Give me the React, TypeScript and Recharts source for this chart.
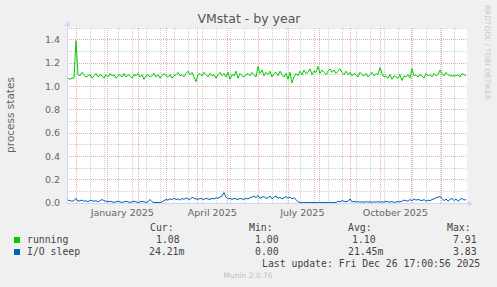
import React from 'react';
import { ComposedChart, Line, XAxis, YAxis, CartesianGrid } from 'recharts';

// running (process states), sampled every 2 days over the 400-day window
const runningValues = [
  1.07, 1.06, 1.07, 1.07,
  1.39,
  1.10,
  1.09, 1.12, 1.10, 1.08, 1.09, 1.10, 1.07, 1.09, 1.11, 1.08, 1.10,
  1.09, 1.07, 1.10, 1.08, 1.11, 1.09, 1.10, 1.07, 1.09, 1.10, 1.08, 1.11,
  1.08, 1.10, 1.09, 1.07, 1.10, 1.09, 1.11, 1.08, 1.10, 1.06, 1.09, 1.10, 1.08,
  1.09, 1.11, 1.08, 1.10, 1.07, 1.09, 1.11, 1.09, 1.08, 1.10, 1.07, 1.09,
  1.10, 1.12, 1.09, 1.10, 1.08, 1.11, 1.13, 1.10, 1.12, 1.08, 1.04, 1.10,
  1.11, 1.09, 1.12, 1.10, 1.08, 1.11, 1.09, 1.10, 1.07, 1.10, 1.12, 1.09, 1.11,
  1.08, 1.12, 1.06, 1.10, 1.09, 1.13, 1.07, 1.11, 1.09, 1.08, 1.10, 1.11, 1.09,
  1.12, 1.10, 1.08, 1.17, 1.11, 1.14, 1.09, 1.12, 1.10, 1.13, 1.08, 1.11,
  1.12, 1.09, 1.13, 1.10, 1.08, 1.11, 1.06, 1.12, 1.03, 1.08, 1.11, 1.09,
  1.13, 1.10, 1.14, 1.11, 1.12, 1.15, 1.10, 1.13, 1.12, 1.17, 1.11, 1.14,
  1.12, 1.10, 1.13, 1.15, 1.12, 1.14, 1.11, 1.13, 1.15, 1.12, 1.10, 1.13,
  1.10, 1.12, 1.09, 1.11, 1.10, 1.08, 1.12, 1.10, 1.09, 1.11, 1.08, 1.10,
  1.12, 1.09, 1.11, 1.10, 1.16, 1.11, 1.08, 1.09, 1.07, 1.10, 1.06, 1.09,
  1.08, 1.07, 1.10, 1.05, 1.09, 1.08, 1.10, 1.07, 1.15, 1.09, 1.10, 1.08,
  1.10, 1.09, 1.07, 1.11, 1.09, 1.10, 1.08, 1.11, 1.09, 1.10, 1.14, 1.11,
  1.09, 1.12, 1.10, 1.09, 1.09, 1.09, 1.09, 1.10, 1.08, 1.11, 1.10, 1.09,
];

// I/O sleep, same sampling
const ioSleepValues = [
  0.025, 0.02, 0.015, 0.02,
  0.04,
  0.015,
  0.02, 0.025, 0.015, 0.02, 0.01, 0.025, 0.02, 0.015, 0.02, 0.01, 0.02,
  0.03, 0.02, 0.015, 0.01, 0.015, 0.01, 0.005, 0.01, 0.015, 0.01, 0.005, 0.01,
  0.015, 0.01, 0.005, 0.01, 0.015, 0.01, 0.005, 0.01, 0.015, 0.01, 0.005, 0.01, 0.03,
  0.01, 0.005, 0.003, 0.005, 0.003, 0.01, 0.02, 0.03, 0.025, 0.035, 0.03, 0.04,
  0.03, 0.035, 0.025, 0.04, 0.03, 0.045, 0.035, 0.03, 0.05, 0.04, 0.035, 0.03,
  0.04, 0.035, 0.03, 0.04, 0.035, 0.03, 0.04, 0.035, 0.045, 0.04, 0.05, 0.06, 0.09,
  0.05, 0.035, 0.04, 0.03, 0.04, 0.035, 0.03, 0.04, 0.035, 0.03, 0.04, 0.035, 0.045,
  0.05, 0.06, 0.045, 0.065, 0.04, 0.05, 0.055, 0.04, 0.045, 0.06, 0.035, 0.05,
  0.06, 0.04, 0.05, 0.035, 0.045, 0.055, 0.04, 0.05, 0.035, 0.045, 0.03, 0.01,
  0.005, 0.003, 0.003, 0.004, 0.003, 0.004, 0.003, 0.005, 0.004, 0.003, 0.004, 0.003,
  0.004, 0.003, 0.005, 0.003, 0.004, 0.003, 0.005, 0.015, 0.01, 0.02, 0.015, 0.01,
  0.015, 0.035, 0.01, 0.015, 0.008, 0.012, 0.008, 0.01, 0.006, 0.012, 0.008, 0.01,
  0.006, 0.01, 0.008, 0.012, 0.006, 0.01, 0.008, 0.015, 0.01, 0.008, 0.012, 0.006,
  0.008, 0.012, 0.01, 0.015, 0.025, 0.02, 0.015, 0.03, 0.02, 0.035, 0.025, 0.03,
  0.025, 0.02, 0.03, 0.015, 0.025, 0.02, 0.03, 0.035, 0.045, 0.05, 0.055, 0.04,
  0.02, 0.035, 0.015, 0.03, 0.04, 0.02, 0.035, 0.015, 0.03, 0.04, 0.025, 0.03,
];

// day offsets from window start (Nov 21 2024 17:00)
const sampleDays = runningValues.map((_, i) => 1 + i * 2);

const yTicks = [0, 0.2, 0.4, 0.6, 0.8, 1.0, 1.2, 1.4];
const yMajorGrid = [0.2, 0.4, 0.6, 0.8, 1.0, 1.2, 1.4];
const yMinorGrid = [0.1, 0.3, 0.5, 0.7, 0.9, 1.1, 1.3, 1.5];
const monthStartDays = [9.29, 40.29, 71.29, 99.29, 130.29, 160.29, 191.29, 221.29, 252.29, 283.29, 313.29, 344.29, 374.29];
const biweeklyDays = Array.from({ length: 28 }, (_, k) => 9.29 + 14 * k);
const xTickDays = [55.29, 145.29, 235.29, 328.29];
const xTickLabels = ['January 2025', 'April 2025', 'July 2025', 'October 2025'];

const legendNames = ['running', 'I/O sleep'];
const legendColors = ['#00CC00', '#0066B3'];
const curValues = ['1.08', '24.21m'];
const minValues = ['1.00', '0.00'];
const avgValues = ['1.10', '21.45m'];
const maxValues = ['7.91', '3.83'];

const data = sampleDays.map((d, i) => ({ day: d, running: runningValues[i], io: ioSleepValues[i] }));

const SANS = "'DejaVu Sans', Verdana, sans-serif";
const MONO = "'DejaVu Sans Mono', monospace";

export default function App() {
  const labelOf = (v: number) => {
    const i = xTickDays.indexOf(v);
    return i >= 0 ? xTickLabels[i] : '';
  };
  const rowY = [243, 255];
  const curX = [156, 149];
  const minX = [255, 255];
  const avgX = [352, 348];
  const maxX = [453, 453];
  return (
    <div style={{ position: 'absolute', left: 0, top: 0, width: 497, height: 287, background: '#F0F0F0' }}>
      <ComposedChart
        width={497}
        height={287}
        data={data}
        margin={{ top: 28, right: 30, bottom: 54, left: 0 }}
      >
        <CartesianGrid
          fill="#FFFFFF"
          stroke="#d0d0d0"
          strokeDasharray="1 1"
          shapeRendering="crispEdges"
          horizontalValues={yMinorGrid}
          verticalValues={biweeklyDays}
        />
        <CartesianGrid
          stroke="#e8aaaa"
          strokeDasharray="1 1"
          shapeRendering="crispEdges"
          horizontalValues={yMajorGrid}
          verticalValues={monthStartDays}
        />
        <XAxis
          dataKey="day"
          type="number"
          domain={[0, 400]}
          ticks={xTickDays}
          tickFormatter={labelOf}
          axisLine={false}
          tickLine={false}
          tickSize={0}
          tickMargin={6}
          height={30}
          interval={0}
          tick={{ fontSize: 9.5, fill: '#666666', fontFamily: SANS }}
        />
        <YAxis
          type="number"
          domain={[0, 1.5]}
          ticks={yTicks}
          tickFormatter={(v: number) => v.toFixed(1)}
          axisLine={false}
          tickLine={false}
          tickSize={0}
          tickMargin={7}
          width={67}
          interval={0}
          allowDataOverflow
          tick={{ fontSize: 9.5, fill: '#666666', fontFamily: SANS }}
        />
        <Line
          dataKey="running"
          type="linear"
          stroke="#00CC00"
          strokeWidth={1}
          dot={false}
          activeDot={false}
          isAnimationActive={false}
        />
        <Line
          dataKey="io"
          type="linear"
          stroke="#0066B3"
          strokeWidth={1}
          dot={false}
          activeDot={false}
          isAnimationActive={false}
        />
      </ComposedChart>
      <svg
        width={497}
        height={287}
        style={{ position: 'absolute', left: 0, top: 0, pointerEvents: 'none' }}
      >
        {/* axes with arrows */}
        <line x1={67.5} y1={203.5} x2={67.5} y2={25} stroke="#CFD6F8" strokeWidth={1} />
        <polygon points="64.5,26 70.5,26 67.5,21" fill="#CFD6F8" />
        <line x1={67} y1={203.5} x2={469} y2={203.5} stroke="#CFD6F8" strokeWidth={1} />
        <polygon points="468,200.5 468,206.5 473,203.5" fill="#CFD6F8" />

        <text x={249} y={23} textAnchor="middle" fontSize={12.5} fontFamily={SANS} fill="#555555">
          VMstat - by year
        </text>
        <text
          x={14}
          y={115}
          textAnchor="middle"
          fontSize={10.5}
          fontFamily={SANS}
          fill="#666666"
          transform="rotate(-90, 14, 115)"
        >
          process states
        </text>
        <text
          x={485}
          y={52.5}
          textAnchor="middle"
          fontSize={7.4}
          fontFamily={SANS}
          fill="#c8c8c8"
          transform="rotate(90, 485, 52.5)"
        >
          RRDTOOL / TOBI OETIKER
        </text>

        <g fontFamily={MONO} fontSize={9.8} fill="#444444">
          <text x={150} y={231}>Cur:</text>
          <text x={249} y={231}>Min:</text>
          <text x={348} y={231}>Avg:</text>
          <text x={447} y={231}>Max:</text>
          {legendNames.map((name, i) => (
            <g key={name}>
              <rect x={14} y={rowY[i] - 6} width={6} height={6} fill={legendColors[i]} />
              <text x={27} y={rowY[i]}>{name}</text>
              <text x={curX[i]} y={rowY[i]}>{curValues[i]}</text>
              <text x={minX[i]} y={rowY[i]}>{minValues[i]}</text>
              <text x={avgX[i]} y={rowY[i]}>{avgValues[i]}</text>
              <text x={maxX[i]} y={rowY[i]}>{maxValues[i]}</text>
            </g>
          ))}
          <text x={262} y={267}>Last update: Fri Dec 26 17:00:56 2025</text>
        </g>
        <text x={248} y={278} textAnchor="middle" fontSize={7.5} fontFamily={SANS} fill="#c0c0c0">
          Munin 2.0.76
        </text>
      </svg>
    </div>
  );
}
